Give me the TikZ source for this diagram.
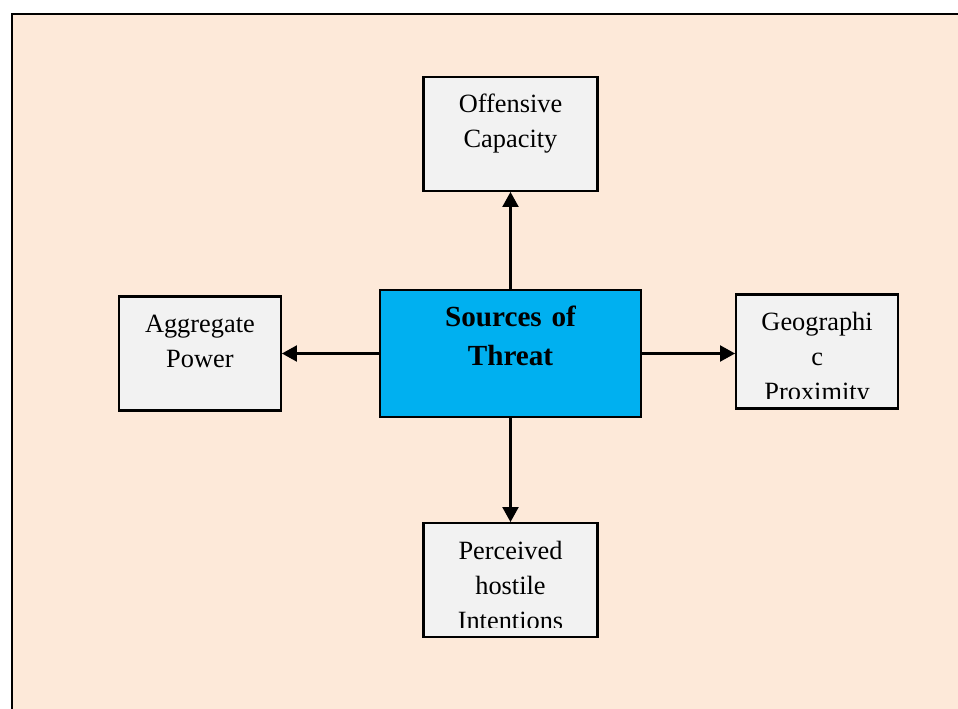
\documentclass[tikz,border=0pt]{standalone}
\usepackage{fontspec}
\setmainfont{Liberation Serif}
\usetikzlibrary{arrows.meta,positioning}
\definecolor{peach}{HTML}{FDE9D9}
\definecolor{boxgray}{HTML}{F2F2F2}
\definecolor{threatblue}{HTML}{00B0F0}

\begin{document}
\begin{tikzpicture}[node distance=2cm, auto]
        \tikzstyle{box} = [rectangle, draw, line width=1.2pt, fill=boxgray, minimum width=3.48cm, minimum height=2.28cm, inner sep=0pt]
        \tikzstyle{line} = [draw, line width=1.2pt, -{Triangle[length=0.3cm, width=0.32cm]}]
        \tikzstyle{label} = [anchor=base, text width=3.2cm, align=center, inner sep=0pt, font=\fontsize{15}{19.9}\selectfont]
        % text sits at the top of the box and is cut off near its bottom
        \tikzset{boxtext/.style 2 args={path picture={
            \clip ([yshift=0.2cm]path picture bounding box.south west) rectangle (path picture bounding box.north east);
            \node [label] (#1) at ([yshift=-0.72cm]path picture bounding box.north) {#2};}}}

        % page and background
        \clip (0,0) rectangle (19.16,-14.18);
        \draw [fill=peach, line width=1.4pt] (0.24,-0.28) rectangle (19.8,-14.8);

        \node [box, fill=threatblue, minimum width=5.22cm, minimum height=2.54cm] (threat) at (10.21,-7.07) {};
        \node [label, text width=5cm, font=\fontsize{16.6}{22.2}\selectfont\bfseries] (threat-txt) at ([yshift=-0.76cm]threat.north) {Sources of\\Threat};

        \node [box, above=1.94cm of threat, boxtext={offensive-txt}{Offensive\\Capacity}] (offensive) {};
        \node [box, left=1.94cm of threat, minimum width=3.24cm, boxtext={aggregate-txt}{Aggregate\\Power}] (aggregate) {};
        \node [box, right=1.86cm of threat, minimum width=3.24cm, yshift=0.04cm, boxtext={geographic-txt}{Geographi\\c\\Proximity}] (geographic) {};
        \node [box, below=2.08cm of threat, boxtext={perceived-txt}{Perceived\\hostile\\Intentions}] (perceived) {};

        \path [line] (threat) -- (offensive);
        \path [line] (threat) -- (aggregate);
        \path [line] (threat.east) -- (threat.east -| geographic.west);
        \path [line] (threat) -- (perceived);
    \end{tikzpicture}
\end{document}
